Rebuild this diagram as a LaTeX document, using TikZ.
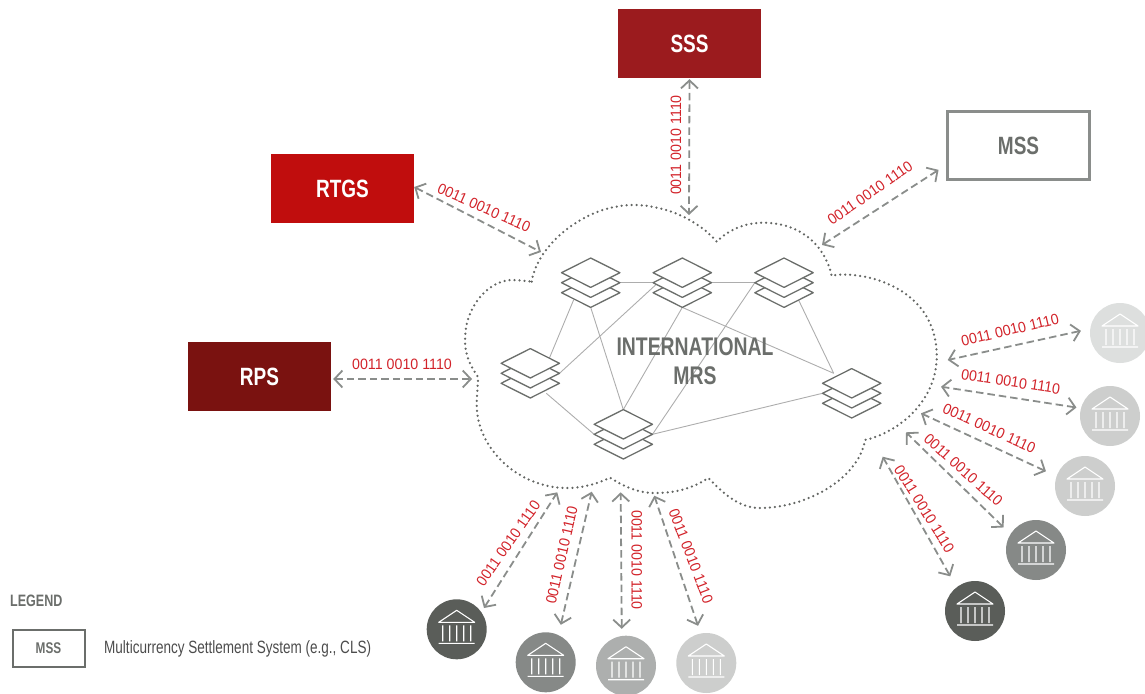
\documentclass[tikz,border=0pt]{standalone}
\usepackage{fontspec}
\setmainfont[FakeStretch=0.76]{Liberation Sans}
\newfontfamily\bitsfont[FakeStretch=0.95]{Liberation Sans}
\usetikzlibrary{arrows.meta}
\definecolor{mrsgray}{HTML}{6B6E6B}
\definecolor{dotgray}{HTML}{636663}
\definecolor{arrowgray}{HTML}{8A8D8B}
\definecolor{bitsred}{HTML}{D2232A}
\definecolor{bankA}{HTML}{DDDFDE}
\definecolor{bankB}{HTML}{CDCECD}
\definecolor{bankC}{HTML}{ADAFAE}
\definecolor{bankD}{HTML}{868987}
\definecolor{bankE}{HTML}{5A5D59}
\tikzset{
  sysbox/.style={minimum width=143,minimum height=69,inner sep=0,text=white,
    font=\fontsize{25}{25}\selectfont\bfseries},
  stackbox/.style={minimum width=58,minimum height=49,inner sep=0},
  bankdisc/.style={circle,minimum size=60,inner sep=0,fill=#1},
  datalink/.style={draw=arrowgray,line width=1.8,dash pattern=on 7.5pt off 4pt,
    {Straight Barb[length=8,width=17,line width=1.8]}-{Straight Barb[length=8,width=17,line width=1.8]}},
  bits/.style={text=bitsred,inner sep=0,font=\fontsize{15}{15}\selectfont\bitsfont},
  meshlink/.style={draw=black!32,line width=0.9},
  layers/.pic={
    \foreach \dy in {10,0,-10}
      \draw[fill=white,draw=mrsgray,line width=1.3,line join=round]
        (-29.2,\dy) -- (0,\dy-14.7) -- (29.2,\dy) -- (0,\dy+14.7) -- cycle;
  },
  bank/.pic={
    \draw[white,line width=1.1,line join=round]
      (-18,-7) -- (0,-19) -- (18,-7) -- cycle
      (-14,-4) -- (-14,12) (-7,-4) -- (-7,12) (0,-4) -- (0,12)
      (7,-4) -- (7,12) (14,-4) -- (14,12)
      (-18,14) -- (18,14);
  },
}
\newcommand{\banknode}[3]{%
  \node[bankdisc=#3] (#1) at (#2) {};
  \pic at (#1) {bank};
}
\begin{document}
\begin{tikzpicture}[x=1pt,y=-1pt]
  \useasboundingbox (0,0) rectangle (1145,693);

  % systems
  \node[sysbox,fill={rgb,255:red,155;green,27;blue,30}] (sss) at (689.5,43.5) {\raisebox{-1pt}{SSS}};
  \node[sysbox,fill={rgb,255:red,192;green,13;blue,13}] (rtgs) at (342.5,188.5) {\raisebox{-1pt}{RTGS}};
  \node[sysbox,fill={rgb,255:red,122;green,18;blue,16}] (rps) at (259.5,376.5) {RPS};
  \node[sysbox,draw=arrowgray,line width=2.8,text=mrsgray,minimum width=142,minimum height=68] (mss) at (1018.5,145.5) {\raisebox{-1pt}{MSS}};

  % cloud
  \draw[dotgray,line width=2.5,line cap=round,dash pattern=on 0pt off 5pt]
    (531.7,281.7) .. controls (537,245) and (585,205) .. (633,205)
    .. controls (668,205) and (700,222) .. (716.7,241.7)
    .. controls (730,228) and (748,222.7) .. (763,222.7)
    .. controls (800,222.7) and (825,245) .. (831.7,276)
    .. controls (850,270) and (936.7,280) .. (936.7,356.7)
    .. controls (936.7,400) and (900,432) .. (865,440)
    .. controls (858,480) and (805,508) .. (760,508)
    .. controls (738,508) and (722,492) .. (708.3,478)
    .. controls (690,490) and (672,493) .. (655,493)
    .. controls (638,493) and (625,487) .. (610,477.7)
    .. controls (595,485) and (580,488) .. (566.7,488)
    .. controls (520,488) and (477,450) .. (476.7,405)
    .. controls (476.7,395) and (478,385) .. (478,377)
    .. controls (470,365) and (465,355) .. (465,340)
    .. controls (465,305) and (490,280) .. (512,280)
    .. controls (518,280) and (525,281) .. (531.7,281.7);

  % stacks and the mesh between them
  \node[stackbox] (s1) at (590.7,282.7) {};
  \node[stackbox] (s2) at (682.3,282.7) {};
  \node[stackbox] (s3) at (784,282.7) {};
  \node[stackbox] (s4) at (530.3,373.3) {};
  \node[stackbox] (s5) at (623.3,434.3) {};
  \node[stackbox] (s6) at (851.7,393.3) {};
  \draw[meshlink] (s1.east) -- (s2.west);
  \draw[meshlink] (s2.east) -- (s3.west);
  \draw[meshlink] ([shift={(-17,17)}]s1.center) -- ([shift={(19,-15)}]s4.center);
  \draw[meshlink] (s1.south) -- (s5.north);
  \draw[meshlink] ([shift={(-21,-3)}]s2.center) -- (s4.east);
  \draw[meshlink] (s2.south) -- (s5.north);
  \draw[meshlink] (s2.south) -- ([shift={(-18,-20)}]s6.center);
  \draw[meshlink] (s3.west) -- (s5.east);
  \draw[meshlink] ([shift={(13,14)}]s3.center) -- ([shift={(-18,-20)}]s6.center);
  \draw[meshlink] ([shift={(16,20)}]s4.center) -- (s5.west);
  \draw[meshlink] (s5.east) -- (s6.west);
  \pic at (s1) {layers};
  \pic at (s2) {layers};
  \pic at (s3) {layers};
  \pic at (s4) {layers};
  \pic at (s5) {layers};
  \pic at (s6) {layers};
  \node[text=mrsgray,align=center,inner sep=0,font=\fontsize{25.5}{29.5}\selectfont\bfseries] (mrs) at (695,361) {INTERNATIONAL\\MRS};

  % banks
  \banknode{r1}{1120,333}{bankA}
  \banknode{r2}{1110,416}{bankB}
  \banknode{r3}{1085,486}{bankB}
  \banknode{r4}{1036,550}{bankD}
  \banknode{r5}{975,611}{bankE}
  \banknode{b1}{456.7,629.3}{bankE}
  \banknode{b2}{545.7,662.3}{bankD}
  \banknode{b3}{626,665.7}{bankC}
  \banknode{b4}{706.3,663}{bankB}

  % free ends on the cloud
  \coordinate (crtgs) at (541,252);
  \coordinate (csss) at (689,215);
  \coordinate (cmss) at (822,245);
  \coordinate (crps) at (472,379);
  \coordinate (cr1) at (947.7,360);
  \coordinate (cr2) at (941,386.7);
  \coordinate (cr3) at (921,413.3);
  \coordinate (cr4) at (906,432.3);
  \coordinate (cr5) at (882.7,456.7);
  \coordinate (cb1) at (557.3,492.3);
  \coordinate (cb2) at (591.7,491.7);
  \coordinate (cb3) at (620.7,492.3);
  \coordinate (cb4) at (654.3,495.7);

  % data links
  \draw[datalink] ([yshift=1.5]rtgs.east) -- (crtgs);
  \draw[datalink,shorten <=1] (sss.south) -- (csss);
  \draw[datalink,shorten <=9] (mss.west |- 0,165) -- (cmss);
  \draw[datalink,shorten <=2] ([yshift=-2.5]rps.east) -- (crps);
  \draw[datalink,shorten <=9.4] (r1.172) -- (cr1);
  \draw[datalink,shorten <=4.4] (r2.165) -- (cr2);
  \draw[datalink,shorten <=11.6] (r3.161) -- (cr3);
  \draw[datalink,shorten <=9.4] (r4.148) -- (cr4);
  \draw[datalink,shorten <=12.5] (r5.128) -- (cr5);
  \draw[datalink,shorten <=4.7] (b1.35) -- (cb1);
  \draw[datalink,shorten <=10.4] (b2.65) -- (cb2);
  \draw[datalink,shorten <=7] (b3.98) -- (cb3);
  \draw[datalink,shorten <=8] (b4.101) -- (cb4);

  % labels on the links
  \node[bits,rotate=-24] (lrtgs) at (484,208) {0011 0010 1110};
  \node[bits,rotate=90] (lsss) at (676,145) {0011 0010 1110};
  \node[bits,rotate=35] (lmss) at (870,193) {0011 0010 1110};
  \node[bits] (lrps) at (402,364) {0011 0010 1110};
  \node[bits,rotate=13.5] (lr1) at (1010,330) {0011 0010 1110};
  \node[bits,rotate=-8.7] (lr2) at (1010.7,381.7) {0011 0010 1110};
  \node[bits,rotate=-24.5] (lr3) at (989.3,428.3) {0011 0010 1110};
  \node[bits,rotate=-42] (lr4) at (963.3,470) {0011 0010 1110};
  \node[bits,rotate=-58] (lr5) at (924.3,509) {0011 0010 1110};
  \node[bits,rotate=55] (lb1) at (508.3,543.3) {0011 0010 1110};
  \node[bits,rotate=77] (lb2) at (561.7,555) {0011 0010 1110};
  \node[bits,rotate=-90] (lb3) at (636.7,560) {0011 0010 1110};
  \node[bits,rotate=-69] (lb4) at (691,556) {0011 0010 1110};

  % legend
  \node[anchor=west,inner sep=0,text=mrsgray,font=\fontsize{16.5}{16.5}\selectfont\bfseries] (legend) at (10,601) {LEGEND};
  \node[draw=mrsgray,line width=2,minimum width=72,minimum height=37,inner sep=0,text=mrsgray,font=\fontsize{15.5}{15.5}\selectfont\bfseries] (key) at (48.5,648) {MSS};
  \node[anchor=west,inner sep=0,text=black!70,font=\fontsize{17.8}{17.8}\selectfont] (keytext) at (104,648.5) {Multicurrency Settlement System (e.g., CLS)};
\end{tikzpicture}
\end{document}
